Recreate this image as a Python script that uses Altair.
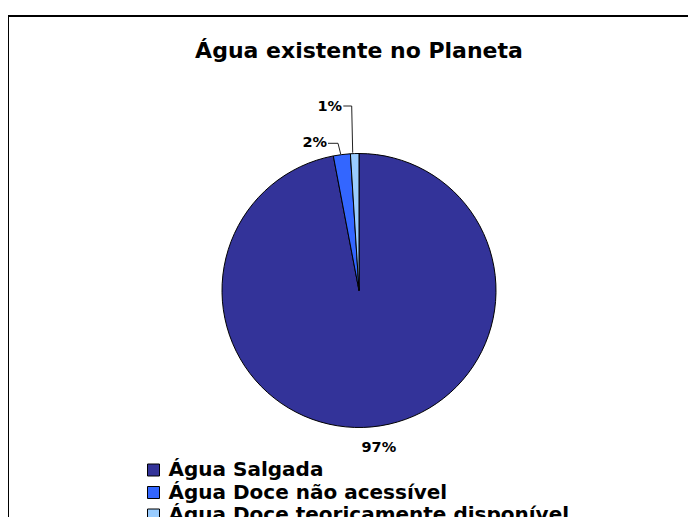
import altair as alt
import pandas as pd

categories = ["Água Salgada", "Água Doce não acessível", "Água Doce teoricamente disponível"]
values = [97, 2, 1]
pct_labels = ["97%", "2%", "1%"]
colors = ["#333399", "#3366FF", "#99CCFF"]
order_idx = [0, 1, 2]
title_text = "Água existente no Planeta"

df = pd.DataFrame({"cat": categories, "value": values, "label": pct_labels, "ord": order_idx})
one = pd.DataFrame({"k": [0]})

FONT = "DejaVu Sans"
CX = 329  # view center x (width / 2)

base = alt.Chart(df).encode(
    theta=alt.Theta("value:Q", stack=True),
    order=alt.Order("ord:Q"),
)

pie = base.mark_arc(outerRadius=137, stroke="black", strokeWidth=1).encode(
    color=alt.Color(
        "cat:N",
        sort=categories,
        scale=alt.Scale(domain=categories, range=colors),
        legend=alt.Legend(
            orient="none", legendX=113.5, legendY=396, title=None,
            symbolType="square", symbolSize=144, symbolStrokeColor="black",
            symbolStrokeWidth=1, symbolOpacity=1,
            labelFont=FONT, labelFontSize=20, labelFontWeight="bold",
            labelColor="black", labelOffset=5, rowPadding=2.5, padding=0,
            labelLimit=800,
        ),
    )
)


def pct_text(i, radius, dx, dy):
    return base.mark_text(
        radius=radius, dx=dx, dy=dy, font=FONT, fontSize=14.5, fontWeight="bold",
        color="black", align="center", baseline="middle",
    ).encode(
        text=alt.condition(alt.datum.ord == i, alt.Text("label:N"), alt.value(""))
    )


t0 = pct_text(0, 158, 5, 0)
t1 = pct_text(1, 150, -25.5, 1.5)
t2 = pct_text(2, 184, -23.5, 0.5)


def seg(x1, y1, x2, y2, w=1, c="#222222"):
    return alt.Chart(one).mark_rule(color=c, strokeWidth=w).encode(
        x=alt.value(x1), y=alt.value(y1), x2=alt.value(x2), y2=alt.value(y2)
    )


# leader lines
leaders = [
    seg(298, 79.3, 308, 79.3),
    seg(308, 79.3, 310.7, 90),
    seg(313.3, 42, 321.7, 42),
    seg(321.7, 42, 322.7, 88.7),
]

border = [
    seg(-22, -48, 680, -48, w=2, c="black"),
    seg(-22, -48, -22, 460, w=2, c="black"),
]

title = alt.Chart(one).mark_text(
    text=title_text, font=FONT, fontSize=22, fontWeight="bold", color="black",
    align="center", baseline="alphabetic",
).encode(x=alt.value(CX), y=alt.value(-5.7))

chart = alt.layer(pie, t0, t1, t2, title, *leaders, *border).properties(
    width=658, height=453,
    padding={"left": 22, "top": 56, "right": 0, "bottom": 0},
    autosize="none",
).configure_view(stroke=None)

chart.save("out.html", embed_options={"renderer": "svg", "actions": False})
